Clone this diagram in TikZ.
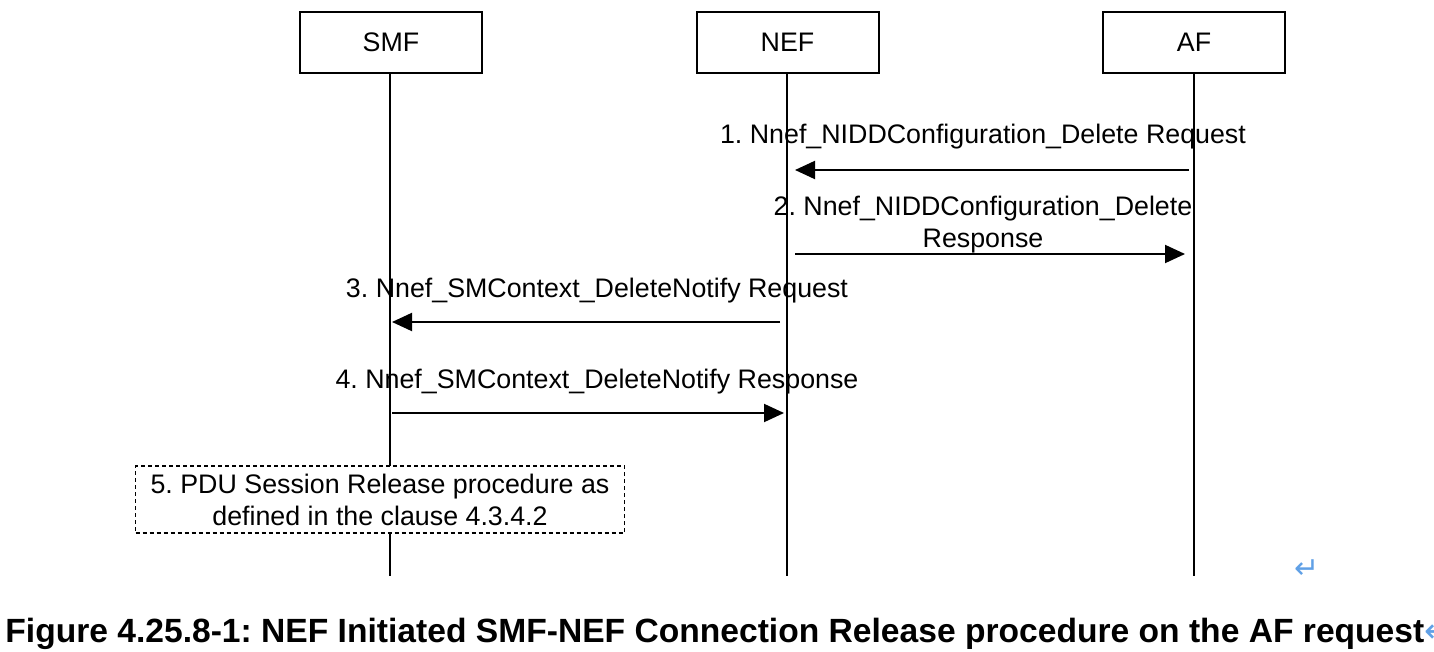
\documentclass[tikz,border=0pt]{standalone}
\usepackage{fontspec}
\setmainfont{Liberation Sans}
\newfontfamily\symfont{DejaVu Sans}
\usetikzlibrary{arrows.meta}
\definecolor{markblue}{RGB}{96,160,230}
\frenchspacing

\begin{document}
\begin{tikzpicture}[x=0.5pt, y=-0.5pt, font=\fontsize{13.4}{16}\selectfont]
    \useasboundingbox (0,0) rectangle (1434,652);
    \tikzset{
        entity/.style={draw, line width=1pt, minimum width=91pt, minimum height=30.5pt, inner sep=0pt},
        lifeline/.style={line width=1pt},
        msg/.style={line width=1pt, -{Triangle[length=10pt, width=9pt]}},
        procbox/.style={draw, fill=white, line width=0.8pt, dash pattern=on 2pt off 1.5pt,
            minimum width=244.5pt, minimum height=33.5pt, align=center, inner sep=0pt},
    }

    % entities and lifelines
    \node[entity] (smf) at (391,42.5) {SMF};
    \node[entity] (nef) at (787.5,42.5) {NEF};
    \node[entity] (af) at (1194,42.5) {AF};
    \coordinate (smf end) at (390,576);
    \coordinate (nef end) at (787,576);
    \coordinate (af end) at (1194,576);
    \draw[lifeline] (smf.south -| smf end) -- (smf end);
    \draw[lifeline] (nef.south -| nef end) -- (nef end);
    \draw[lifeline] (af.south -| af end) -- (af end);

    % 1
    \coordinate (m1 af) at (1194,170);
    \coordinate (m1 nef) at (787,170);
    \node (m1 text) at (983,137) {1. Nnef\_NIDDConfiguration\_Delete Request};
    \draw[msg, shorten <=2.5pt, shorten >=4pt] (m1 af) -- (m1 nef);

    % 2
    \coordinate (m2 nef) at (787,254);
    \coordinate (m2 af) at (1194,254);
    \node[align=center] (m2 text) at (983,225) {2. Nnef\_NIDDConfiguration\_Delete\\Response};
    \draw[msg, shorten <=4pt, shorten >=4.5pt] (m2 nef) -- (m2 af);

    % 3
    \coordinate (m3 nef) at (787,322);
    \coordinate (m3 smf) at (390,322);
    \node (m3 text) at (597,291) {3. Nnef\_SMContext\_DeleteNotify Request};
    \draw[msg, shorten <=3.5pt, shorten >=1pt] (m3 nef) -- (m3 smf);

    % 4
    \coordinate (m4 smf) at (390,413);
    \coordinate (m4 nef) at (787,413);
    \node (m4 text) at (597,382) {4. Nnef\_SMContext\_DeleteNotify Response};
    \draw[msg, shorten <=1pt, shorten >=1.5pt] (m4 smf) -- (m4 nef);

    % 5
    \node[procbox] (release) at (380,499.5) {5. PDU Session Release procedure as\\defined in the clause 4.3.4.2};

    % marks and caption
    \node[text=markblue, font=\symfont\fontsize{15}{15}\selectfont] (mark) at (1307,569) {↵};
    \node[anchor=west, inner sep=0pt, font=\bfseries\fontsize{16.8}{18}\selectfont] (caption) at (5,634)
        {Figure 4.25.8-1: NEF Initiated SMF-NEF Connection Release procedure on the AF request{\symfont\mdseries\color{markblue}↵}};

\end{tikzpicture}
\end{document}
